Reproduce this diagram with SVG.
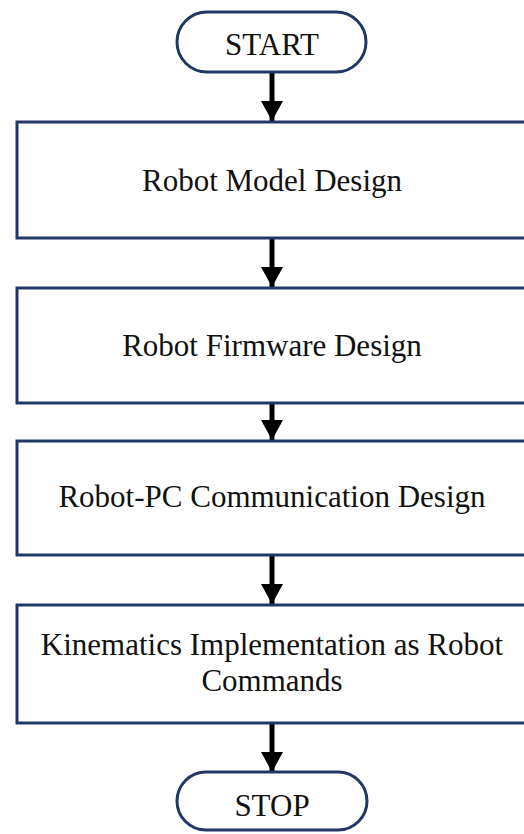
<svg xmlns="http://www.w3.org/2000/svg" width="524" height="834" viewBox="0 0 524 834">
<defs>
<style>
.box{fill:#fff;stroke:#1f3864;stroke-width:3}
.t{font-family:"Liberation Serif","Times New Roman",serif;font-size:31px;fill:#111;text-anchor:middle}
.c{stroke:#000;stroke-width:5;fill:none}
</style>
<marker id="ah" markerUnits="userSpaceOnUse" markerWidth="22" markerHeight="22" refX="20" refY="11" orient="auto" viewBox="0 0 22 22">
<path d="M0,0 L20,11 L0,22 Z" fill="#000"/>
</marker>
</defs>
<rect width="524" height="834" fill="#fff"/>
<g id="connectors">
<line class="c" x1="272" y1="72" x2="272" y2="121" marker-end="url(#ah)"/>
<line class="c" x1="272" y1="238" x2="272" y2="287" marker-end="url(#ah)"/>
<line class="c" x1="272" y1="403" x2="272" y2="440" marker-end="url(#ah)"/>
<line class="c" x1="272" y1="555" x2="272" y2="604" marker-end="url(#ah)"/>
<line class="c" x1="272" y1="723" x2="272" y2="772" marker-end="url(#ah)"/>
</g>
<g id="start">
<rect class="box" x="177" y="12" width="189" height="60" rx="30"/>
<text class="t" x="272" y="55">START</text>
</g>
<g id="model">
<rect class="box" x="17" y="122" width="530" height="116"/>
<text class="t" x="272" y="191">Robot Model Design</text>
</g>
<g id="firmware">
<rect class="box" x="17" y="288" width="530" height="115"/>
<text class="t" x="272" y="356">Robot Firmware Design</text>
</g>
<g id="comm">
<rect class="box" x="17" y="441" width="530" height="114"/>
<text class="t" x="272" y="507">Robot-PC Communication Design</text>
</g>
<g id="kinematics">
<rect class="box" x="17" y="605" width="530" height="118"/>
<text class="t" x="272" y="655">Kinematics Implementation as Robot</text>
<text class="t" x="272" y="691">Commands</text>
</g>
<g id="stop">
<rect class="box" x="177" y="772" width="190" height="58" rx="29"/>
<text class="t" x="272" y="816">STOP</text>
</g>
</svg>
